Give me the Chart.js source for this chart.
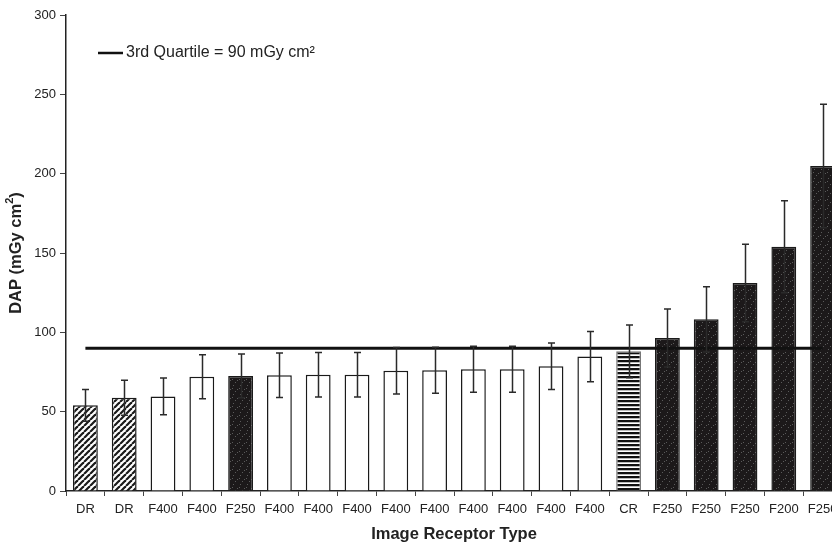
<!DOCTYPE html>
<html>
<head>
<meta charset="utf-8">
<script src="https://cdn.jsdelivr.net/npm/chart.js@4/dist/chart.umd.min.js"></script>
<style>
  html, body { margin: 0; padding: 0; background: #fff; overflow: hidden; }
  #wrap { width: 850px; height: 546px; }
</style>
</head>
<body>
<div id="wrap"><canvas id="chart" width="850" height="546"></canvas></div>
<script>
// Image receptor type for each room
const categories = ['DR', 'DR', 'F400', 'F400', 'F250', 'F400', 'F400', 'F400', 'F400', 'F400',
                    'F400', 'F400', 'F400', 'F400', 'CR', 'F250', 'F250', 'F250', 'F200', 'F250'];
// Mean dose-area product (mGy cm²)
const dapMeans = [54.0, 58.8, 59.6, 72.0, 72.5, 72.9, 73.3, 73.3, 75.8, 76.1,
                  76.7, 76.7, 78.6, 84.7, 88.0, 96.4, 108.2, 131.1, 154.0, 204.8];
// Error bar half-lengths (mGy cm²)
const dapErrors = [10.0, 11.0, 11.6, 13.9, 13.8, 14.0, 14.0, 14.0, 14.6, 14.5,
                   14.5, 14.5, 14.7, 15.8, 16.6, 18.3, 20.6, 24.4, 29.0, 38.9];
// Reference level
const thirdQuartile = 90;
const yTicks = [0, 50, 100, 150, 200, 250, 300];

const FONT = '"Liberation Sans", Arial, Helvetica, sans-serif';
const INK = '#222';

function tile(w, h, paint) {
  const c = document.createElement('canvas');
  c.width = w; c.height = h;
  const g = c.getContext('2d');
  paint(g);
  return document.getElementById('chart').getContext('2d').createPattern(c, 'repeat');
}

// diagonal hatching for DR
const hatchFill = tile(6, 6, g => {
  g.fillStyle = '#fff'; g.fillRect(0, 0, 6, 6);
  g.strokeStyle = '#1a1a1a'; g.lineWidth = 2.2;
  for (const o of [-6, 0, 6]) {
    g.beginPath(); g.moveTo(o, 6); g.lineTo(o + 6, 0); g.stroke();
  }
});
// horizontal stripes for CR
const stripeFill = tile(4, 4, g => {
  g.fillStyle = '#fff'; g.fillRect(0, 0, 4, 4);
  g.fillStyle = '#111'; g.fillRect(0, 0, 4, 2);
  g.fillStyle = '#bbb'; g.fillRect(0, 2, 4, 1);
});
// dark stippled fill for F250 / F200
const darkFill = tile(7, 9, g => {
  g.fillStyle = '#1c191a'; g.fillRect(0, 0, 7, 9);
  g.fillStyle = '#5a5a5a';
  g.fillRect(1, 1, 1, 1); g.fillRect(4, 4, 1, 1); g.fillRect(2, 7, 1, 1); g.fillRect(6, 2, 1, 1);
});

function fillFor(label) {
  if (label === 'DR') return hatchFill;
  if (label === 'CR') return stripeFill;
  if (label === 'F400') return '#fff';
  return darkFill;
}
function borderFor(label) {
  if (label === 'CR') return '#777';
  return '#1a1a1a';
}

// error bars on top of the bars
const errorBars = {
  id: 'errorBars',
  afterDatasetsDraw(chart) {
    const meta = chart.getDatasetMeta(1);
    const y = chart.scales.y;
    const ctx = chart.ctx;
    ctx.save();
    ctx.strokeStyle = '#2a2a2a';
    ctx.lineWidth = 1.5;
    meta.data.forEach((bar, i) => {
      const x = Math.round(bar.x) + 0.5;
      const top = y.getPixelForValue(dapMeans[i] + dapErrors[i]);
      const bot = y.getPixelForValue(dapMeans[i] - dapErrors[i]);
      ctx.beginPath();
      ctx.moveTo(x, top); ctx.lineTo(x, bot);
      ctx.moveTo(x - 3.5, top); ctx.lineTo(x + 3.5, top);
      ctx.moveTo(x - 3.5, bot); ctx.lineTo(x + 3.5, bot);
      ctx.stroke();
    });
    ctx.restore();
  }
};

// legend entry inside the plot area
const quartileKey = {
  id: 'quartileKey',
  afterDraw(chart) {
    const ctx = chart.ctx;
    const a = chart.chartArea;
    const x0 = a.left + 32, yMid = a.top + 38;
    ctx.save();
    ctx.strokeStyle = '#111';
    ctx.lineWidth = 2.5;
    ctx.beginPath(); ctx.moveTo(x0, yMid); ctx.lineTo(x0 + 25, yMid); ctx.stroke();
    ctx.fillStyle = INK;
    ctx.font = '16px ' + FONT;
    ctx.textBaseline = 'middle';
    ctx.fillText('3rd Quartile = ' + thirdQuartile + ' mGy cm²', x0 + 28, yMid);
    ctx.restore();
  }
};

// rotated y-axis title with a raised exponent
const yTitle = {
  id: 'yTitle',
  afterDraw(chart) {
    const ctx = chart.ctx;
    const a = chart.chartArea;
    const main = 'DAP (mGy cm', sup = '2', tail = ')';
    const big = 'bold 16.5px ' + FONT, small = 'bold 11px ' + FONT;
    ctx.save();
    ctx.font = big;
    const w1 = ctx.measureText(main).width, w3 = ctx.measureText(tail).width;
    ctx.font = small;
    const w2 = ctx.measureText(sup).width;
    const total = w1 + w2 + w3;
    ctx.translate(16, (a.top + a.bottom) / 2);
    ctx.rotate(-Math.PI / 2);
    ctx.fillStyle = INK;
    ctx.textBaseline = 'middle';
    ctx.textAlign = 'left';
    let x = -total / 2;
    ctx.font = big; ctx.fillText(main, x, 0); x += w1;
    ctx.font = small; ctx.fillText(sup, x, -6); x += w2;
    ctx.font = big; ctx.fillText(tail, x, 0);
    ctx.restore();
  }
};

new Chart(document.getElementById('chart'), {
  data: {
    labels: categories,
    datasets: [
      {
        type: 'line',
        label: '3rd Quartile',
        data: categories.map(() => thirdQuartile),
        borderColor: '#111',
        borderWidth: 3,
        pointRadius: 0,
        fill: false,
        order: 0
      },
      {
        type: 'bar',
        label: 'DAP',
        data: dapMeans,
        backgroundColor: categories.map(fillFor),
        borderColor: categories.map(borderFor),
        borderWidth: 1.5,
        barPercentage: 0.64,
        categoryPercentage: 1.0,
        order: 1
      }
    ]
  },
  options: {
    responsive: false,
    animation: false,
    devicePixelRatio: 1,
    layout: { padding: { top: 15, right: 8, bottom: 0, left: 0 } },
    plugins: { legend: { display: false }, tooltip: { enabled: false } },
    scales: {
      x: {
        offset: true,
        grid: { display: true, offset: true, drawOnChartArea: false, drawTicks: true, tickLength: 5, color: '#444', lineWidth: 1 },
        border: { display: true, color: '#222', width: 1.5 },
        ticks: { color: INK, font: { family: FONT, size: 13 }, padding: 6, maxRotation: 0, autoSkip: false },
        title: { display: true, text: 'Image Receptor Type', color: INK, font: { family: FONT, size: 16.5, weight: 'bold' }, padding: { top: 4, bottom: 2 } },
        afterFit(s) { s.height = 55; }
      },
      y: {
        min: 0,
        max: 300,
        afterBuildTicks(s) { s.ticks = yTicks.map(v => ({ value: v })); },
        grid: { display: true, drawOnChartArea: false, drawTicks: true, tickLength: 6, color: '#444' },
        border: { display: true, color: '#222', width: 1.5 },
        ticks: { color: INK, font: { family: FONT, size: 13 }, padding: 4 },
        title: { display: false },
        afterFit(s) { s.width = 66; }
      }
    }
  },
  plugins: [errorBars, quartileKey, yTitle]
});
</script>
</body>
</html>
